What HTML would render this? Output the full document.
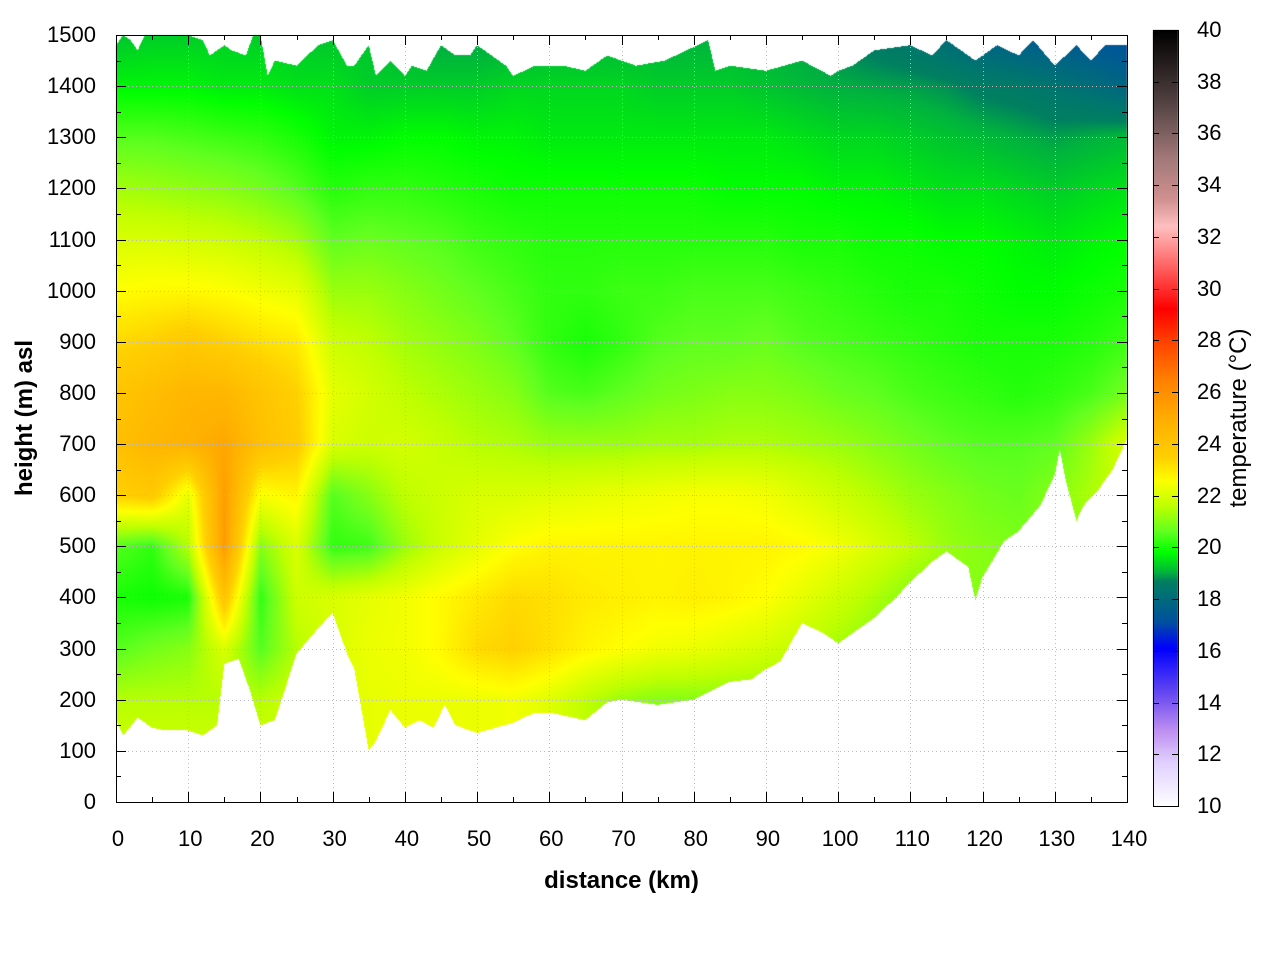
<!DOCTYPE html>
<html><head><meta charset="utf-8"><style>
body{margin:0;background:#fff;}
#wrap{position:relative;width:1280px;height:960px;font-family:"Liberation Sans",sans-serif;color:#000;}
.t{position:absolute;font-size:22px;line-height:22px;white-space:nowrap;}
</style></head><body>
<div id="wrap">
<canvas id="cv" width="1280" height="960" style="position:absolute;left:0;top:0"></canvas>
<svg id="sv" width="1280" height="960" style="position:absolute;left:0;top:0"></svg>
<div class="t" style="left:0;width:1243px;top:869px;text-align:center;font-weight:bold;font-size:24px;line-height:24px">distance (km)</div>
<div class="t" style="left:25px;top:418px;font-weight:bold;font-size:24px;line-height:24px;transform:translate(-50%,-50%) rotate(-90deg)">height (m) asl</div>
<div class="t" style="left:1239px;top:418px;font-size:24px;line-height:24px;transform:translate(-50%,-50%) rotate(-90deg)">temperature (°C)</div>
</div>
<script>
// ---- data ----
const distances=[0,5,10,15,20,25,30,35,40,45,50,55,60,65,70,75,80,85,90,95,100,105,110,115,120,125,130,135,140];
const heights=[0,100,200,300,400,500,600,700,800,900,1000,1100,1200,1300,1400,1500];
const t0=[21.8,21.8,21.8,21.8,21.8,21.8,22,22.2,22.3,22.3,22.3,22.4,22.1,21.6,21.2,21,21,21,21,21,21,21,21,21,21,21,21,21,21];
const t100=[21.8,21.8,21.8,21.8,21.8,21.8,22,22.2,22.3,22.3,22.3,22.4,22.1,21.6,21.2,21,21,21,21,21,21,21,21,21,21,21,21,21,21];
const t200=[21.5,21.5,21.5,21.5,21.5,21.8,22,22.2,22.3,22.3,22.3,22.4,22.1,21.6,21.2,21,21,21,21,21,21,21,21,21,21,21,21,21,21];
const t300=[20.5,20.8,21,22,20.5,21.5,22,22.3,22.4,22.7,23.3,23.5,23.2,22.8,22.6,22.4,22.3,22.1,21.9,21.6,21.3,21,21,21,21,21,21,21,21];
const t400=[20,19.9,20,24,20.2,21.8,22,22.2,22.4,22.7,23,23.3,23.2,23,22.9,22.8,22.9,22.8,22.6,22.2,21.8,21.4,21,21,21,21,21,21,21];
const t500=[20.5,20.2,21.5,25.6,21,22,20.2,20.3,21.2,21.8,22.2,22.6,22.8,22.8,22.8,22.8,22.8,22.8,22.8,22.7,22.4,22,21.6,21.2,21,20.9,21,21,21];
const t600=[23.5,23.8,22.2,25.5,22.5,22.8,20.5,21,21.6,21.8,22,22,22.1,22.2,22.3,22.4,22.5,22.5,22.4,22.1,21.8,21.5,21.2,21,20.8,20.7,21,21.4,21.8];
const t700=[24.2,24.6,24.8,25.2,24.2,23.7,22,21.8,21.9,21.7,21.5,21.4,21.2,21.2,21.2,21.3,21.3,21.4,21.4,21.3,21.2,21,20.8,20.6,20.5,20.5,20.6,21.2,22];
const t800=[24,24.3,24.6,24.6,24,23.5,22.2,21.9,21.6,21.4,21.2,21,20.5,20.4,20.6,20.8,20.9,21,21,20.9,20.7,20.6,20.4,20.3,20.2,20.1,20.2,20.4,20.8];
const t900=[23.3,23.5,23.8,23.5,23.2,23,21.8,21.6,21.3,21.1,20.9,20.6,20.2,20,20.2,20.5,20.6,20.6,20.7,20.5,20.4,20.3,20.2,20.1,20,20,20,20.1,20.3];
const t1000=[22.6,22.7,22.7,22.6,22.4,22.2,21.2,21.2,21,20.8,20.6,20.4,20.2,20.2,20.3,20.3,20.4,20.4,20.4,20.3,20.2,20.1,20,20,19.9,19.8,19.8,19.9,20];
const t1100=[22,22,21.9,21.8,21.6,21.3,20.6,20.7,20.6,20.5,20.3,20.2,20.1,20.1,20.1,20.1,20.1,20.1,20.1,20,20,19.9,19.9,19.8,19.8,19.7,19.6,19.7,19.8];
const t1200=[21.3,21.2,21.1,21,20.8,20.5,20.1,20.2,20.2,20.1,20,19.9,19.9,19.9,19.9,19.9,19.9,19.8,19.8,19.8,19.7,19.7,19.6,19.5,19.5,19.4,19.3,19.4,19.5];
const t1300=[20.5,20.5,20.4,20.3,20.2,20,19.7,19.7,19.8,19.8,19.7,19.7,19.6,19.6,19.6,19.6,19.6,19.6,19.6,19.5,19.4,19.4,19.3,19.2,19.1,19.0,18.9,19.0,19.1];
const t1400=[19.7,19.7,19.7,19.6,19.6,19.5,19.5,19.3,19.3,19.3,19.3,19.4,19.4,19.4,19.4,19.3,19.3,19.3,19.2,19.1,19,18.95,18.9,18.8,18.6,18.5,18.3,18.1,17.8];
const t1500=[19.2,19.3,19.3,19.3,19.3,19.2,19.2,19.2,19,18.9,18.9,18.9,19,19,19,19,19,19,19,18.9,18.7,18.5,18.3,18.0,17.7,17.5,17.4,17.2,17.1];
const terrainX=[0,1,3,5,7,10,12,14,15,17,18.5,20,22,25,28,30,32,33,35,36,38,40,42,44,45.5,47,50,55,58,60,65,68,70,75,80,85,88,90,92,95,98,100,103,105,108,110,113,115,118,119,120,123,125,128,130,130.7,131.5,133,134,136,138,140];
const terrainH=[160,130,165,145,140,140,130,150,270,280,220,150,160,290,340,370,290,260,100,120,180,145,160,145,190,150,135,155,175,175,160,195,200,190,200,235,240,260,275,350,330,310,340,360,400,430,470,490,460,395,440,510,530,580,640,690,630,550,580,610,650,710];
const topX=[0,1,2,3,4,5,10,12,13,15,16,18,19,20,21,22,25,28,30,32,33,35,36,38,40,41,43,45,47,49,50,54,55,58,62,65,68,72,76,82,83,85,90,95,99,100,102,105,110,113,115,119,122,125,127,130,133,135,137,140];
const topH=[1480,1500,1490,1470,1500,1500,1500,1490,1460,1480,1470,1460,1500,1500,1420,1450,1440,1480,1490,1440,1440,1480,1420,1450,1420,1440,1430,1480,1460,1460,1480,1440,1420,1440,1440,1430,1460,1440,1450,1490,1430,1440,1430,1450,1420,1430,1440,1470,1480,1460,1490,1450,1480,1460,1490,1440,1480,1450,1480,1480];
const xTicks=[0,10,20,30,40,50,60,70,80,90,100,110,120,130,140];
const yTicks=[0,100,200,300,400,500,600,700,800,900,1000,1100,1200,1300,1400,1500];
const cbTicks=[10,12,14,16,18,20,22,24,26,28,30,32,34,36,38,40];
const paletteVals=[10,11.7,12.9,14.2,16.1,17.1,18.7,19.0,19.8,20.6,21.6,22.6,23.5,24.9,26.5,28.0,29.2,30.8,32.4,33.5,35.1,37.3,40];
const paletteCols=['#ffffff','#e0d0ff','#c090f0','#7050f0','#0000ff','#0050a0','#008060','#00b040','#00ff00','#60ff20','#c0ff00','#ffff00','#ffd000','#ffb000','#ff8000','#ff4000','#ff0000','#ff6060','#ffc0c0','#d09090','#a07878','#504040','#000000'];
// ---- axes ----
const L=116,R=1127,T=35,B=802;
const xs=d=>L+(d/140)*(R-L), ys=h=>B-(h/1500)*(B-T);
const cbT=30,cbB=806,cbL=1153,cbR=1178;
const cbY=v=>cbB-(v-10)/30*(cbB-cbT);
const grid=[t0,t100,t200,t300,t400,t500,t600,t700,t800,t900,t1000,t1100,t1200,t1300,t1400,t1500];
const pc=paletteCols.map(c=>[parseInt(c.slice(1,3),16),parseInt(c.slice(3,5),16),parseInt(c.slice(5,7),16)]);
function col(v){
  if(v<=paletteVals[0])return pc[0];
  for(let i=1;i<paletteVals.length;i++){if(v<=paletteVals[i]){const f=(v-paletteVals[i-1])/(paletteVals[i]-paletteVals[i-1]);const a=pc[i-1],b=pc[i];return[a[0]+(b[0]-a[0])*f,a[1]+(b[1]-a[1])*f,a[2]+(b[2]-a[2])*f];}}
  return pc[pc.length-1];
}
function lerpArr(X,Y,x){if(x<=X[0])return Y[0];for(let i=1;i<X.length;i++){if(x<=X[i]){const f=(x-X[i-1])/(X[i]-X[i-1]);return Y[i-1]+(Y[i]-Y[i-1])*f;}}return Y[Y.length-1];}
function temp(d,h){
  let ci=Math.min(distances.length-2,Math.max(0,Math.floor(d/5))); let cf=(d-distances[ci])/(distances[ci+1]-distances[ci]);
  let ri=Math.min(heights.length-2,Math.max(0,Math.floor(h/100))); let rf=(h-heights[ri])/(heights[ri+1]-heights[ri]);
  const a=grid[ri][ci]*(1-cf)+grid[ri][ci+1]*cf, b=grid[ri+1][ci]*(1-cf)+grid[ri+1][ci+1]*cf;
  return a*(1-rf)+b*rf;
}
const cv=document.getElementById('cv'),ctx=cv.getContext('2d');
const W=R-L,H=B-T;const img=ctx.createImageData(W,H);
for(let px=0;px<W;px++){
  const d=(px+0.5)/W*140; const tb=lerpArr(terrainX,terrainH,d), tt=lerpArr(topX,topH,d);
  for(let py=0;py<H;py++){
    const h=(H-py-0.5)/H*1500; const k=(py*W+px)*4;
    if(h<tb||h>tt){img.data[k]=255;img.data[k+1]=255;img.data[k+2]=255;img.data[k+3]=255;continue;}
    const c=col(temp(d,h));img.data[k]=c[0];img.data[k+1]=c[1];img.data[k+2]=c[2];img.data[k+3]=255;
  }
}
ctx.putImageData(img,L,T);
for(let y=cbT;y<cbB;y++){const v=10+(cbB-y-0.5)/(cbB-cbT)*30;const c=col(v);ctx.fillStyle=`rgb(${c[0]|0},${c[1]|0},${c[2]|0})`;ctx.fillRect(cbL,y,cbR-cbL,1);}
const NS='http://www.w3.org/2000/svg',sv=document.getElementById('sv'),wrap=document.getElementById('wrap');
function ln(x1,y1,x2,y2,name,extra){const e=document.createElementNS(NS,'line');e.setAttribute('x1',x1);e.setAttribute('y1',y1);e.setAttribute('x2',x2);e.setAttribute('y2',y2);e.setAttribute('stroke',extra&&extra.c||'#000');e.setAttribute('stroke-width',extra&&extra.w||1);if(extra&&extra.dash)e.setAttribute('stroke-dasharray',extra.dash);


sv.appendChild(e);}
function txt(s,x,y,align,name){const d=document.createElement('div');d.className='t';d.textContent=s;d.style.top=(y-11)+'px';
if(align==='c'){d.style.left=(x-60)+'px';d.style.width='120px';d.style.textAlign='center';}
else if(align==='r'){d.style.left=(x-120)+'px';d.style.width='120px';d.style.textAlign='right';}
else d.style.left=x+'px';


wrap.appendChild(d);}
xTicks.forEach(v=>{const x=Math.round(xs(v))+0.5;
  if(v>0&&v<140)ln(x,T,x,B,'x-grid-line',{c:'#bbb',dash:'1,3'});
  ln(x,B,x,B-10,'x-tick');ln(x,T,x,T+10,'x-tick-top');
  txt(String(v),xs(v)+2,839,'c','x-tick-label');});
for(let v=5;v<140;v+=10){const x=Math.round(xs(v))+0.5;ln(x,B,x,B-5,'x-minor-tick');ln(x,T,x,T+5,'x-minor-tick-top');}
yTicks.forEach(v=>{const y=Math.round(ys(v))+0.5;
  if(v>0&&v<1500)ln(L,y,R,y,'y-grid-line',{c:'#bbb',dash:'1,3'});
  ln(L,y,L+10,y,'y-tick');ln(R,y,R-10,y,'y-tick-right');
  txt(String(v),96,ys(v),'r','y-tick-label');});
for(let v=50;v<1500;v+=100){const y=Math.round(ys(v))+0.5;ln(L,y,L+5,y,'y-minor-tick');ln(R,y,R-5,y,'y-minor-tick-right');}
const fr=document.createElementNS(NS,'rect');fr.setAttribute('x',L+0.5);fr.setAttribute('y',T+0.5);fr.setAttribute('width',R-L);fr.setAttribute('height',B-T);fr.setAttribute('fill','none');fr.setAttribute('stroke','#000');


sv.appendChild(fr);
const cf=document.createElementNS(NS,'rect');cf.setAttribute('x',cbL+0.5);cf.setAttribute('y',cbT+0.5);cf.setAttribute('width',cbR-cbL);cf.setAttribute('height',cbB-cbT);cf.setAttribute('fill','none');cf.setAttribute('stroke','#000');


sv.appendChild(cf);
cbTicks.forEach(v=>{const y=Math.round(cbY(v))+0.5;ln(cbL,y,cbL+6,y,'colorbar-tick');ln(cbR,y,cbR-6,y,'colorbar-tick-right');
  txt(String(v),1197,cbY(v),'l','colorbar-tick-label');});
</script>
</body></html>
